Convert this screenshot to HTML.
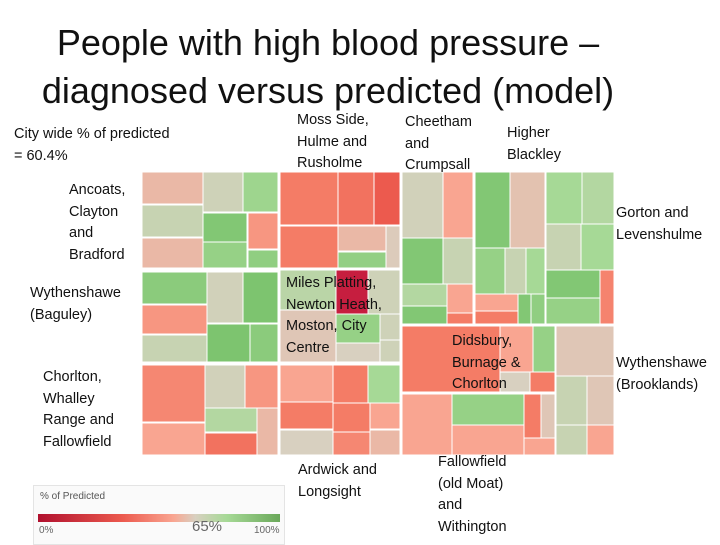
<!DOCTYPE html>
<html><head><meta charset="utf-8"><style>
body{margin:0;width:720px;height:540px;background:#fff;position:relative;overflow:hidden;font-family:"Liberation Sans",sans-serif}
.t{position:absolute;white-space:nowrap;color:#111}
.lab{position:absolute;font-size:14.5px;line-height:21.5px;color:#111;white-space:nowrap}
svg{position:absolute;left:0;top:0}
</style></head><body>
<div class="t" style="left:0;width:656px;text-align:center;top:19px;font-size:36px;line-height:48px">People with high blood pressure –<br>diagnosed versus predicted (model)</div>
<div class="lab" style="left:14px;top:124px">City wide % of predicted<br>= 60.4%</div>
<svg id="tm" width="720" height="540"></svg>
<div class="lab" style="left:297px;top:110px">Moss Side,<br>Hulme and<br>Rusholme</div>
<div class="lab" style="left:405px;top:112px">Cheetham<br>and<br>Crumpsall</div>
<div class="lab" style="left:507px;top:123px">Higher<br>Blackley</div>
<div class="lab" style="left:69px;top:180px">Ancoats,<br>Clayton<br>and<br>Bradford</div>
<div class="lab" style="left:616px;top:203px">Gorton and<br>Levenshulme</div>
<div class="lab" style="left:30px;top:283px">Wythenshawe<br>(Baguley)</div>
<div class="lab" style="left:286px;top:273px">Miles Platting,<br>Newton Heath,<br>Moston, City<br>Centre</div>
<div class="lab" style="left:452px;top:331px">Didsbury,<br>Burnage &amp;<br>Chorlton</div>
<div class="lab" style="left:616px;top:353px">Wythenshawe<br>(Brooklands)</div>
<div class="lab" style="left:43px;top:367px">Chorlton,<br>Whalley<br>Range and<br>Fallowfield</div>
<div class="lab" style="left:298px;top:460px">Ardwick and<br>Longsight</div>
<div class="lab" style="left:438px;top:452px">Fallowfield<br>(old Moat)<br>and<br>Withington</div>
<div style="position:absolute;left:33px;top:485px;width:250px;height:58px;background:#fafafa;border:1px solid #e4e4e4">
<div style="position:absolute;left:6px;top:5px;font-size:10px;color:#555">% of Predicted</div>
<div style="position:absolute;left:4px;top:28px;width:242px;height:8px;background:linear-gradient(to right,#b0102e 0%,#ec5a4e 35%,#f9a591 56%,#d8d0c0 65%,#a6d996 78%,#6aa85a 100%)"></div>
<div style="position:absolute;left:5px;top:39px;font-size:10px;color:#666">0%</div>
<div style="position:absolute;left:158px;top:32px;font-size:15px;color:#666">65%</div>
<div style="position:absolute;left:220px;top:39px;font-size:10px;color:#666">100%</div>
</div>
<script>
// % of predicted per cell (colour-encoded)
const values=[60,70,60,68,83,93,86,52,88, 45,42,35,45,60,64,87, 90,52,70,67,95,95,90, 74,63,5,68,86,68,65,68, 48,56,67,52,76,42,60, 56,45,80,45,45,56,65,48,60, 67,56,93,70,76,56,93,45, 93,62,86,70,80,56,45,93,88, 80,76,70,80,93,47,86, 45,56,86,65,45, 63,70,63,70,56, 56,86,56,45,63,56];
// treemap layout rectangles [x0,y0,x1,y1]
const layout=[[142,172,203,204],[142,205,203,237],[142,238,203,268],[203,172,243,212],[243,172,278,212],[203,213,247,242],[203,242,247,268],[248,213,278,249],[248,250,278,268],
[280,172,338,225],[338,172,374,225],[374,172,400,225],[280,226,338,268],[338,226,386,251],[386,226,400,268],[338,252,386,268],
[142,272,207,304],[142,305,207,334],[142,335,207,362],[207,272,243,323],[243,272,278,323],[207,324,250,362],[250,324,278,362],
[280,270,336,310],[280,310,336,362],[336,270,368,314],[368,270,400,314],[336,314,380,343],[380,314,400,340],[336,343,380,362],[380,340,400,362],
[142,365,205,422],[142,423,205,455],[205,365,245,408],[245,365,278,408],[205,408,257,432],[205,433,257,455],[257,408,278,455],
[280,365,333,402],[333,365,368,403],[368,365,400,403],[280,402,333,429],[333,403,370,432],[370,403,400,429],[280,430,333,455],[333,432,370,455],[370,430,400,455],
[402,172,443,238],[443,172,473,238],[402,238,443,284],[443,238,473,284],[402,284,447,306],[447,284,473,313],[402,306,447,324],[447,313,473,324],
[475,172,510,248],[510,172,545,248],[475,248,505,294],[505,248,526,294],[526,248,545,294],[475,294,518,311],[475,311,518,324],[518,294,531,324],[531,294,545,324],
[546,172,582,224],[582,172,614,224],[546,224,581,270],[581,224,614,270],[546,270,600,298],[600,270,614,324],[546,298,600,324],
[402,326,500,392],[500,326,533,372],[533,326,555,372],[500,372,530,392],[530,372,555,392],
[556,326,614,376],[556,376,587,425],[587,376,614,425],[556,425,587,455],[587,425,614,455],
[402,394,452,455],[452,394,524,425],[452,425,524,455],[524,394,541,438],[541,394,555,438],[524,438,555,455]];
const stops=[[0,[192,20,60]],[35,[236,90,78]],[45,[244,124,102]],[56,[249,165,145]],[65,[216,208,192]],[80,[166,217,150]],[95,[125,196,111]],[100,[112,184,96]]];
function color(v){for(let i=1;i<stops.length;i++){if(v<=stops[i][0]){const a=stops[i-1],b=stops[i],t=(v-a[0])/(b[0]-a[0]);return 'rgb('+a[1].map((c,k)=>Math.round(c+(b[1][k]-c)*t)).join(',')+')';}}return 'rgb(112,184,96)';}
const svg=document.getElementById('tm');
values.forEach((v,i)=>{const r=layout[i];if(!r)return;
const el=document.createElementNS('http://www.w3.org/2000/svg','rect');


el.setAttribute('x',r[0]);el.setAttribute('y',r[1]);el.setAttribute('width',r[2]-r[0]);el.setAttribute('height',r[3]-r[1]);
el.setAttribute('fill',color(v));el.setAttribute('stroke','#fff');el.setAttribute('stroke-width','1');
svg.appendChild(el);});
</script>
</body></html>
